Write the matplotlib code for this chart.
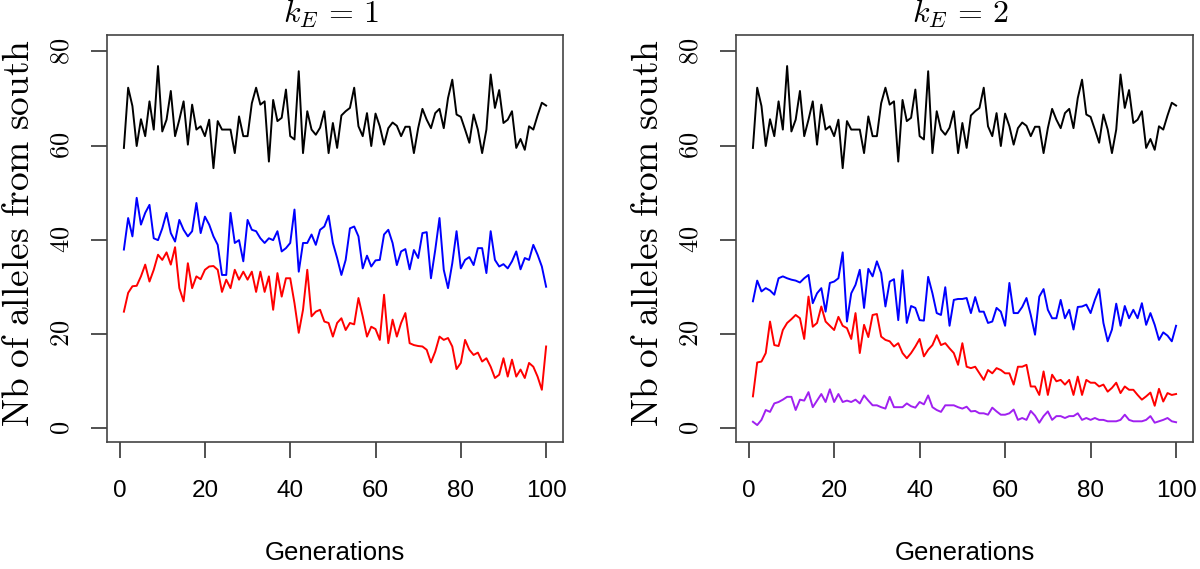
import numpy as np
import matplotlib
matplotlib.use("Agg")
import matplotlib.pyplot as plt

plt.rcParams['mathtext.fontset'] = 'cm'

generations = np.arange(1, 101)

# Black series (same in both panels)
black = [59.5, 72.3, 68.4, 59.9, 65.6, 62.0, 69.4, 63.4, 76.9, 63.0,
         65.5, 71.6, 62.0, 65.5, 69.4, 60.2, 68.7, 63.4, 64.1, 62.0,
         65.5, 55.2, 65.2, 63.4, 63.4, 63.4, 58.4, 66.2, 62.0, 62.0,
         69.0, 72.3, 68.7, 69.4, 56.6, 69.7, 65.2, 65.9, 71.9, 62.0,
         61.3, 75.8, 58.4, 67.3, 63.4, 62.3, 63.8, 67.3, 58.4, 64.8,
         59.5, 66.4, 67.3, 68.0, 72.3, 64.1, 62.0, 66.9, 59.9, 66.8,
         64.1, 60.2, 63.7, 64.9, 64.2, 62.0, 64.0, 64.0, 58.4, 63.7,
         67.8, 65.5, 63.7, 66.9, 67.8, 63.7, 70.1, 74.0, 66.6, 66.1,
         63.4, 60.6, 66.6, 63.4, 58.4, 63.4, 75.1, 68.0, 71.8, 64.8,
         65.5, 67.3, 59.5, 61.4, 59.1, 64.1, 63.4, 66.4, 69.1, 68.5]

blue_k1 = [37.9, 44.6, 40.7, 48.9, 43.2, 45.7, 47.4, 40.3, 39.9, 42.4,
           45.7, 41.4, 39.6, 44.2, 42.1, 40.7, 41.8, 47.8, 41.4, 44.9,
           43.2, 40.7, 38.9, 32.5, 32.5, 45.7, 39.3, 39.9, 35.4, 44.2,
           42.1, 41.8, 40.3, 39.3, 40.3, 39.9, 41.8, 37.5, 38.2, 39.3,
           46.4, 33.2, 39.3, 39.3, 41.1, 38.9, 42.1, 42.8, 45.1, 39.3,
           36.1, 32.5, 35.7, 42.4, 42.8, 40.7, 33.9, 36.6, 34.3, 35.6,
           35.7, 41.1, 42.1, 39.3, 34.6, 37.5, 38.0, 33.7, 37.8, 36.1,
           41.4, 41.6, 31.8, 37.8, 44.6, 33.6, 29.7, 35.0, 41.8, 33.9,
           35.7, 36.3, 34.6, 38.2, 38.2, 32.9, 41.8, 35.7, 34.3, 34.8,
           33.9, 35.4, 37.5, 33.7, 36.1, 35.7, 38.9, 36.8, 34.3, 30.0]

red_k1 = [24.7, 28.7, 30.1, 30.2, 32.2, 34.7, 31.1, 33.6, 36.8, 35.7,
          37.3, 34.7, 38.4, 29.7, 26.9, 35.0, 29.7, 32.2, 31.6, 33.6,
          34.3, 34.4, 33.6, 28.9, 31.5, 29.7, 33.6, 31.5, 33.2, 31.5,
          33.2, 28.9, 33.2, 28.9, 32.2, 25.1, 32.9, 27.9, 31.8, 31.8,
          26.5, 20.2, 25.1, 33.6, 23.7, 24.7, 25.1, 22.6, 22.3, 19.4,
          22.3, 23.3, 20.8, 22.3, 22.0, 27.6, 23.7, 19.4, 21.5, 21.0,
          18.7, 28.3, 18.0, 23.0, 19.4, 22.3, 24.4, 18.0, 17.6, 17.4,
          17.3, 16.6, 13.9, 16.2, 19.4, 18.7, 19.1, 17.3, 12.5, 13.8,
          18.7, 16.6, 15.5, 16.0, 14.1, 14.8, 13.0, 10.6, 11.3, 14.8,
          10.9, 14.5, 10.9, 12.4, 10.6, 13.8, 13.0, 10.9, 8.1, 17.3]

blue_k2 = [26.9, 31.3, 29.0, 29.7, 29.2, 28.3, 31.8, 32.2, 31.8, 31.5,
           31.3, 30.9, 31.8, 32.5, 26.5, 28.6, 29.7, 24.7, 30.8, 31.1,
           31.8, 37.3, 22.6, 28.6, 30.4, 33.6, 25.5, 33.8, 32.2, 35.4,
           32.9, 25.8, 31.1, 31.6, 22.9, 33.5, 22.3, 25.9, 25.5, 22.9,
           22.8, 32.1, 28.6, 24.4, 24.0, 29.9, 21.7, 27.2, 27.4, 27.4,
           27.6, 24.4, 27.8, 24.7, 24.7, 22.3, 22.6, 25.5, 24.7, 21.7,
           30.8, 24.4, 24.4, 25.7, 27.6, 24.0, 19.8, 27.9, 29.5, 25.1,
           23.3, 23.3, 27.2, 23.3, 25.1, 20.9, 25.7, 25.8, 26.2, 24.4,
           27.2, 29.5, 22.3, 18.4, 20.9, 26.4, 21.7, 25.9, 23.3, 25.1,
           23.3, 26.5, 21.9, 24.4, 21.9, 18.7, 20.3, 19.6, 18.4, 21.7]

red_k2 = [6.7, 13.9, 14.1, 15.9, 22.6, 17.6, 17.4, 20.8, 22.3, 23.1,
          24.0, 23.3, 18.9, 27.9, 21.5, 22.3, 25.8, 22.6, 21.7, 20.8,
          23.6, 21.7, 21.2, 18.9, 24.4, 15.9, 21.9, 19.3, 24.0, 24.2,
          19.4, 18.7, 18.4, 17.3, 18.0, 15.9, 14.8, 15.9, 17.3, 18.9,
          15.2, 16.6, 17.6, 19.7, 17.6, 18.0, 16.9, 15.9, 13.4, 18.0,
          13.0, 12.7, 13.0, 11.6, 10.2, 12.3, 11.6, 12.7, 12.3, 11.6,
          11.6, 9.2, 13.0, 13.0, 13.4, 8.8, 8.8, 7.0, 12.0, 7.0,
          11.3, 9.9, 10.2, 9.2, 10.2, 7.0, 10.9, 7.0, 10.2, 9.6,
          9.6, 8.8, 9.2, 7.7, 8.5, 9.6, 7.4, 8.8, 8.1, 8.1,
          7.0, 6.0, 6.7, 7.5, 4.7, 8.3, 5.6, 7.4, 7.0, 7.2]

purple_k2 = [1.3, 0.6, 1.7, 3.8, 3.4, 5.2, 5.5, 6.0, 6.6, 6.6,
             3.8, 6.0, 5.8, 7.6, 4.4, 5.8, 7.2, 5.5, 8.2, 5.5,
             7.2, 5.5, 5.8, 5.5, 6.0, 5.2, 6.9, 5.8, 4.8, 4.8,
             4.4, 4.1, 6.6, 4.4, 4.4, 4.4, 5.2, 4.6, 4.3, 5.5,
             5.0, 6.9, 4.4, 3.8, 3.4, 4.8, 4.8, 4.8, 4.4, 4.1,
             4.5, 3.5, 3.6, 3.1, 3.1, 2.8, 4.3, 3.5, 2.8, 2.8,
             3.1, 3.9, 1.7, 2.1, 1.7, 3.6, 2.6, 1.1, 2.5, 3.5,
             1.7, 2.5, 2.5, 2.1, 2.5, 2.5, 3.1, 1.7, 2.1, 1.7,
             2.1, 1.7, 1.7, 1.4, 1.4, 1.4, 1.7, 2.8, 1.7, 1.4,
             1.4, 1.4, 1.7, 2.5, 1.1, 1.4, 1.7, 2.1, 1.4, 1.2]

panel_titles = [r'$k_E\,=\,1$', r'$k_E\,=\,2$']
x_ticks = [0, 20, 40, 60, 80, 100]
y_ticks = [0, 20, 40, 60, 80]

panels = [
    [(black, 'black'), (blue_k1, '#0000FF'), (red_k1, '#FF0000')],
    [(black, 'black'), (blue_k2, '#0000FF'), (red_k2, '#FF0000'), (purple_k2, '#A020F0')],
]

W, H = 1200, 569
fig = plt.figure(figsize=(W / 100, H / 100), dpi=100)

boxes = [(107, 563), (736, 1193)]
top_px, bot_px = 35, 442

for i, ((x0, x1), series) in enumerate(zip(boxes, panels)):
    ax = fig.add_axes([x0 / W, 1 - bot_px / H, (x1 - x0) / W, (bot_px - top_px) / H])
    for vals, col in series:
        ax.plot(generations, vals, color=col, lw=1.4)
    ax.set_xlim(-2.96, 103.96)
    ax.set_ylim(-3.0, 83.5)
    ax.set_xticks(x_ticks)
    ax.set_xticklabels([str(t) for t in x_ticks], fontfamily='Liberation Sans', fontsize=17.5)
    ax.set_yticks(y_ticks)
    ax.set_yticklabels([r'$%d$' % t for t in y_ticks], fontsize=19, rotation=90, va='center')
    ax.tick_params(axis='both', direction='out', length=11.5, width=1.1, color='#222222')
    ax.tick_params(axis='x', pad=16)
    ax.tick_params(axis='y', pad=12)
    for sp in ax.spines.values():
        sp.set_linewidth(1.2)
        sp.set_color('#444444')
    cx = (x0 + x1) / 2 / W
    fig.text(cx, 1 - 553 / H, 'Generations', ha='center', va='center',
             fontfamily='Liberation Sans', fontsize=18.5)
    fig.text(cx - 4 / W, 1 - 14 / H, panel_titles[i], ha='center', va='center', fontsize=23)
    fig.text((x0 - 88) / W, 1 - 233 / H, r'$\mathrm{Nb\ of\ alleles\ from\ south}$',
             rotation=90, ha='center', va='center', fontsize=27)

fig.savefig('out.png', dpi=100)
